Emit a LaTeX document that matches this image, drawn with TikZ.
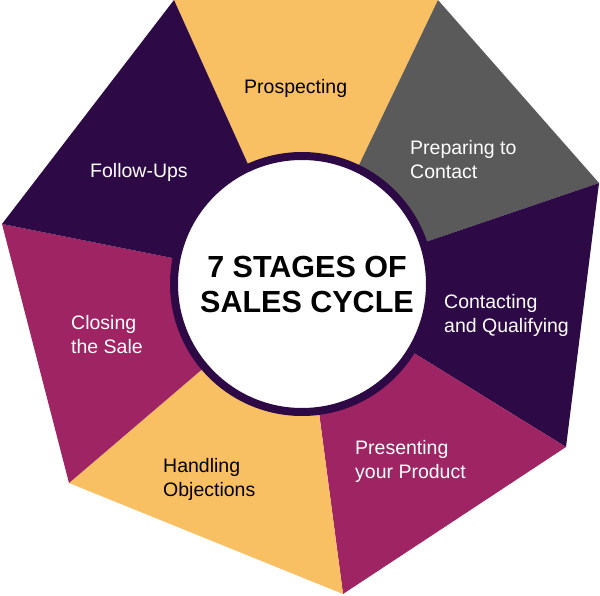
\documentclass[tikz,border=0pt]{standalone}
\usepackage{fontspec}
\setmainfont{Liberation Sans}
\usepackage{xcolor}

\definecolor{plum}{HTML}{2D0A45}
\definecolor{mango}{HTML}{F9C063}
\definecolor{stone}{HTML}{5A5A5A}
\definecolor{berry}{HTML}{9E2463}

\begin{document}
\begin{tikzpicture}[x=1pt, y=-1pt,
  stagelabel/.style={font=\fontsize{19.5}{24}\selectfont, align=left, anchor=west, inner sep=0pt}]

\useasboundingbox (0,0) rectangle (600,596);

% corners of the outer ring
\coordinate (hubc) at (302,284);
\coordinate (v1) at (174,0);
\coordinate (v2) at (438,0);
\coordinate (v3) at (599,183);
\coordinate (v4) at (566,447);
\coordinate (v5) at (343,594);
\coordinate (v6) at (69,483);
\coordinate (v7) at (2,224);

\fill [mango] (hubc) -- (v1) -- (v2) -- cycle;
\fill [stone] (hubc) -- (v2) -- (v3) -- cycle;
\fill [plum]  (hubc) -- (v3) -- (v4) -- cycle;
\fill [berry] (hubc) -- (v4) -- (v5) -- cycle;
\fill [mango] (hubc) -- (v5) -- (v6) -- cycle;
\fill [berry] (hubc) -- (v6) -- (v7) -- cycle;
\fill [plum]  (hubc) -- (v7) -- (v1) -- cycle;

% centre
\node [circle, fill=white, draw=plum, line width=8pt, minimum size=256pt, inner sep=0pt] (hub) at (hubc) {};
\node [align=center, inner sep=0pt, font=\bfseries\fontsize{30.5}{35}\selectfont] (title) at (307,285)
  {7 STAGES OF\\SALES CYCLE};

% stages
\node [stagelabel, black] (prospect) at (244,88) {Prospecting};
\node [stagelabel, white] (prepare) at (410,160) {Preparing to\\Contact};
\node [stagelabel, white] (contact) at (444,315) {Contacting\\and Qualifying};
\node [stagelabel, white] (present) at (355,461) {Presenting\\your Product};
\node [stagelabel, black] (handle) at (163,479) {Handling\\Objections};
\node [stagelabel, white] (close) at (71,335) {Closing\\the Sale};
\node [stagelabel, white] (follow) at (90,172) {Follow-Ups};

\end{tikzpicture}
\end{document}
